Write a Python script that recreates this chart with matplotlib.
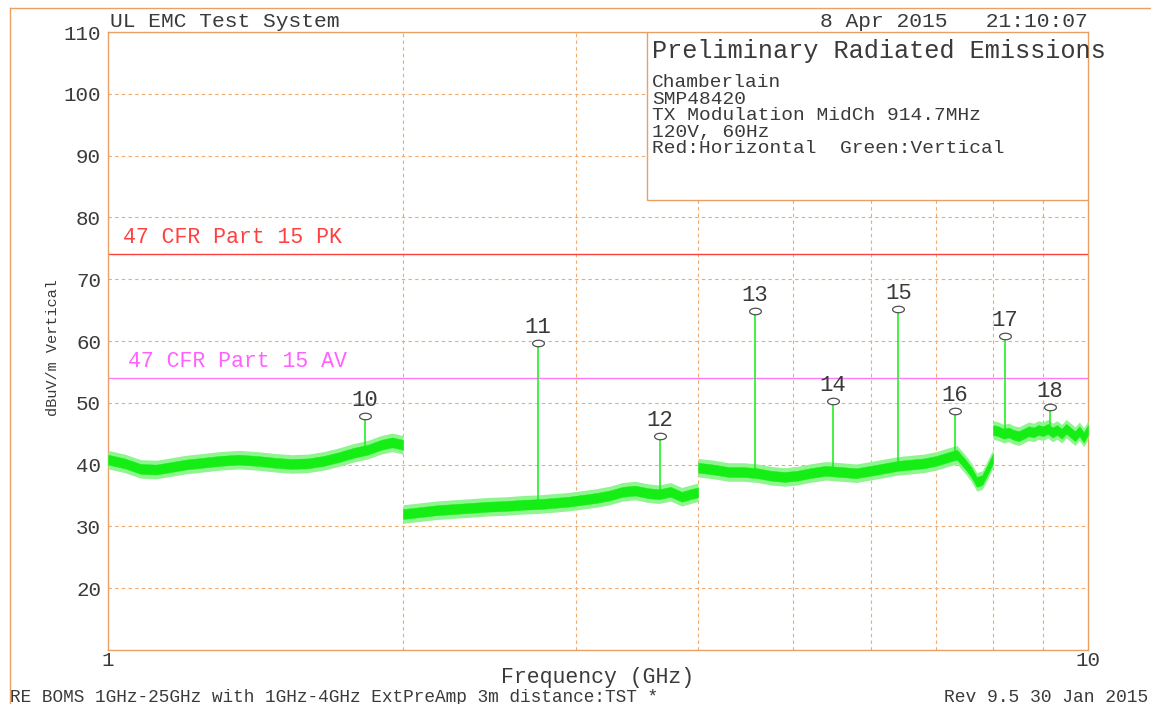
import numpy as np
import matplotlib.pyplot as plt
from matplotlib.path import Path
from matplotlib.patches import Rectangle
from matplotlib.lines import Line2D

plt.rcParams['font.family'] = ['Liberation Mono', 'DejaVu Sans Mono']

# --- scan data: vertical polarisation, frequency in GHz, level in dBuV/m ---
# noise floor, one list per sweep band
band1_f = [1.00, 1.04, 1.08, 1.12, 1.16, 1.20, 1.25, 1.30, 1.36, 1.42,
           1.48, 1.54, 1.60, 1.66, 1.72, 1.78, 1.84, 1.90, 1.95, 2.00]
band1_db = [40.8, 40.2, 39.3, 39.2, 39.6, 40.0, 40.3, 40.6, 40.8, 40.6,
            40.3, 40.1, 40.2, 40.6, 41.2, 41.9, 42.4, 43.2, 43.6, 43.2]

band2_f = [2.00, 2.08, 2.16, 2.25, 2.35, 2.45, 2.55, 2.65, 2.75, 2.85, 2.95,
           3.05, 3.15, 3.25, 3.35, 3.45, 3.55, 3.65, 3.75, 3.85, 3.95, 4.00]
band2_db = [32.0, 32.3, 32.6, 32.8, 33.0, 33.2, 33.3, 33.5, 33.6, 33.8, 34.0,
            34.3, 34.6, 35.0, 35.6, 35.8, 35.4, 35.2, 35.6, 34.8, 35.3, 35.5]

band3_f = [4.00, 4.15, 4.30, 4.45, 4.60, 4.75, 4.90, 5.05, 5.20, 5.40, 5.60,
           5.80, 6.00, 6.20, 6.40, 6.60, 6.80, 7.00, 7.20, 7.35, 7.50, 7.60,
           7.70, 7.80, 7.90, 8.00]
band3_db = [39.5, 39.2, 38.8, 38.8, 38.6, 38.2, 38.0, 38.2, 38.6, 39.0, 38.8,
            38.6, 39.0, 39.4, 39.8, 40.0, 40.2, 40.6, 41.2, 41.6, 40.0, 38.8,
            37.2, 37.5, 39.2, 41.0]

band4_f = [8.0, 8.1, 8.2, 8.3, 8.4, 8.5, 8.6, 8.7, 8.8, 8.9, 9.0,
           9.1, 9.2, 9.3, 9.4, 9.5, 9.6, 9.7, 9.8, 9.9, 10.0]
band4_db = [45.6, 45.4, 45.0, 45.2, 44.8, 44.6, 45.0, 45.4, 45.2, 45.6, 45.4,
            45.8, 45.2, 45.6, 45.0, 45.8, 45.2, 44.6, 45.4, 44.4, 45.6]

noise_core = 0.8    # half width of the dense part of the noise band, dB
noise_fringe = 1.5  # half width of the sparse peaks around it, dB

# harmonics of the 914.7 MHz carrier picked as markers
marker_num = [10, 11, 12, 13, 14, 15, 16, 17, 18]
marker_f = [1.829, 2.744, 3.659, 4.574, 5.488, 6.403, 7.318, 8.232, 9.147]
marker_db = [47.9, 59.7, 44.6, 64.9, 50.3, 65.2, 48.7, 60.8, 49.3]
marker_floor = [42.6, 33.6, 35.8, 38.4, 39.0, 39.8, 41.6, 45.8, 45.6]

pk_limit = 74.0
av_limit = 54.0

y_ticks = [20, 30, 40, 50, 60, 70, 80, 90, 100, 110]

ORANGE = '#e9a062'
GRID = '#f2a86a'
INK = '#3a3a3a'
GREEN = '#14ee14'
GREEN_LIGHT = '#90f590'

W, H = 1151, 704


def fx(x):
    return x / W


def fy(y):
    return 1 - y / H


fig = plt.figure(figsize=(W / 100, H / 100), dpi=100)
ax = fig.add_axes([fx(108), fy(650), 980 / W, 618 / H])

ax.set_xscale('log')
ax.set_xlim(1, 10)
ax.set_ylim(10, 110)

# noise floor bands
for f, db in [(band1_f, band1_db), (band2_f, band2_db),
              (band3_f, band3_db), (band4_f, band4_db)]:
    db = np.asarray(db)
    ax.fill_between(f, db - noise_fringe, db + noise_fringe,
                    color=GREEN_LIGHT, lw=0, zorder=3)
    ax.fill_between(f, db - noise_core, db + noise_core,
                    color=GREEN, lw=0.3, zorder=3)

# marker spikes
for f, lo, hi in zip(marker_f, marker_floor, marker_db):
    ax.plot([f, f], [lo, hi], color=GREEN, lw=1.1, zorder=3)

# oval marker heads
t = np.linspace(0, 2 * np.pi, 40)
oval = Path(np.column_stack([np.cos(t), 0.55 * np.sin(t)]))
ax.plot(marker_f, marker_db, ls='none', marker=oval, ms=8.5,
        mfc='white', mec='#505050', mew=0.9, zorder=5)
for n, f, v in zip(marker_num, marker_f, marker_db):
    ax.annotate(str(n), (f, v), xytext=(0, 3.5), textcoords='offset points',
                ha='center', va='bottom', fontsize=16, color=INK, zorder=6)

# limit lines
ax.axhline(pk_limit, color='#ff4040', lw=1.0, zorder=2)
ax.axhline(av_limit, color='#ff78ff', lw=1.0, zorder=2)
ax.annotate('47 CFR Part 15 PK', (0.015, pk_limit),
            xycoords=('axes fraction', 'data'), xytext=(0, 8),
            textcoords='offset points', va='baseline', fontsize=15.5,
            color='#ff4040')
ax.annotate('47 CFR Part 15 AV', (0.02, av_limit),
            xycoords=('axes fraction', 'data'), xytext=(0, 8),
            textcoords='offset points', va='baseline', fontsize=15.5,
            color='#ff60ff')

# axes, ticks and grid
ax.set_xticks([1, 10])
ax.set_xticklabels(['1', '10'])
ax.set_xticks([2, 3, 4, 5, 6, 7, 8, 9], minor=True)
ax.xaxis.set_minor_formatter(plt.NullFormatter())
ax.set_yticks(y_ticks)
ax.set_yticklabels([str(v) for v in y_ticks])
ax.tick_params(which='both', length=0, labelsize=15, colors=INK)
ax.tick_params(axis='x', pad=1)
ax.tick_params(axis='y', pad=5)
ax.grid(True, which='minor', axis='x', color=GRID, ls=(0, (3, 3)), lw=0.8)
ax.grid(True, which='major', axis='y', color=GRID, ls=(0, (3, 3)), lw=0.8)
ax.set_axisbelow(True)
for sp in ax.spines.values():
    sp.set_color(ORANGE)
    sp.set_linewidth(1.0)

ax.set_ylabel('dBuV/m Vertical', fontsize=11, color=INK)
ax.yaxis.set_label_coords(-0.049, 0.49)
ax.set_xlabel('Frequency (GHz)', fontsize=15.5, color=INK, va='baseline')
ax.xaxis.set_label_coords(0.5, -0.054)

# info box
ax.add_patch(Rectangle((0.55, 0.728), 0.45, 0.272, transform=ax.transAxes,
                       facecolor='white', edgecolor=ORANGE, lw=1.0, zorder=4))
fig.text(fx(652), fy(58), 'Preliminary Radiated Emissions', fontsize=18.2,
         color=INK, va='baseline', zorder=10)
info_lines = ['Chamberlain', 'SMP48420', 'TX Modulation MidCh 914.7MHz',
              '120V, 60Hz', 'Red:Horizontal  Green:Vertical']
for i, line in enumerate(info_lines):
    fig.text(fx(652), fy(87 + i * 16.6), line, fontsize=14, color=INK,
             va='baseline', zorder=10)

# page header / footer
fig.text(fx(110), fy(27), 'UL EMC Test System', fontsize=15.3, color=INK,
         va='baseline')
fig.text(fx(1088), fy(27), '8 Apr 2015   21:10:07', fontsize=15.3, color=INK,
         va='baseline', ha='right')
fig.text(fx(10), fy(702), 'RE BOMS 1GHz-25GHz with 1GHz-4GHz ExtPreAmp 3m distance:TST *',
         fontsize=12.8, color=INK, va='baseline')
fig.text(fx(1148), fy(702), 'Rev 9.5 30 Jan 2015', fontsize=13, color=INK,
         va='baseline', ha='right')

# page frame
fig.add_artist(Line2D([fx(10), 1], [fy(8), fy(8)], color=ORANGE, lw=1.0))
fig.add_artist(Line2D([fx(10), fx(10)], [0, fy(8)], color=ORANGE, lw=1.0))

fig.savefig('out.png', dpi=100)
